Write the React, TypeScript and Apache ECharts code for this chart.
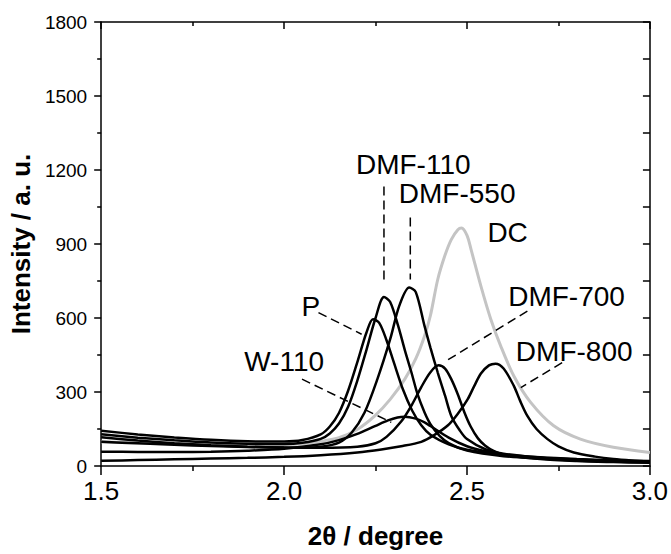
import React, { useEffect, useRef } from "react";
import * as echarts from "echarts";

const X_MIN = 1.5;
const X_MAX = 3.0;
const X_INTERVAL = 0.5;
const Y_MIN = 0;
const Y_MAX = 1800;
const Y_INTERVAL = 300;

const P_DATA: [number, number][] = [
  [1.5, 143], [1.6, 128], [1.7, 116], [1.8, 106], [1.9, 100], [2.0, 99], [2.05, 105], [2.1, 128],
  [2.125, 160], [2.15, 215], [2.175, 305], [2.2, 420], [2.225, 540], [2.243, 595], [2.26, 580],
  [2.28, 510], [2.3, 420], [2.325, 310], [2.35, 225], [2.375, 165], [2.4, 127], [2.45, 88],
  [2.5, 66], [2.6, 46], [2.7, 35], [2.8, 28], [2.9, 23], [3.0, 20],
];

const DMF110_DATA: [number, number][] = [
  [1.5, 129], [1.6, 115], [1.7, 104], [1.8, 95], [1.9, 90], [2.0, 89], [2.05, 94], [2.1, 110],
  [2.125, 132], [2.15, 172], [2.175, 240], [2.2, 345], [2.225, 470], [2.25, 600], [2.273, 685],
  [2.29, 665], [2.312, 567], [2.33, 470], [2.348, 380], [2.365, 290], [2.384, 217], [2.4, 170],
  [2.425, 122], [2.45, 93], [2.5, 63], [2.6, 40], [2.7, 30], [2.8, 24], [2.9, 20], [3.0, 17],
];

const DMF550_DATA: [number, number][] = [
  [1.5, 117], [1.6, 103], [1.7, 92], [1.8, 84], [1.9, 78], [2.0, 75], [2.05, 74], [2.1, 78],
  [2.15, 95], [2.185, 136], [2.22, 217], [2.255, 352], [2.29, 514], [2.315, 650], [2.342, 724],
  [2.36, 705], [2.384, 567], [2.4, 480], [2.42, 379], [2.44, 285], [2.457, 203], [2.48, 145],
  [2.5, 109], [2.55, 68], [2.6, 50], [2.7, 34], [2.8, 26], [2.9, 21], [3.0, 18],
];

const DC_DATA: [number, number][] = [
  [1.5, 98], [1.6, 93], [1.7, 89], [1.8, 87], [1.9, 86], [2.0, 87], [2.05, 90], [2.1, 100],
  [2.15, 115], [2.2, 148], [2.248, 203], [2.29, 270], [2.33, 352], [2.36, 435], [2.384, 527],
  [2.4, 610], [2.42, 756], [2.44, 855], [2.457, 918], [2.475, 958], [2.485, 965], [2.5, 935],
  [2.511, 878], [2.538, 729], [2.565, 595], [2.592, 487], [2.628, 365], [2.674, 258],
  [2.737, 163], [2.81, 109], [2.9, 76], [3.0, 55],
];

const DMF700_DATA: [number, number][] = [
  [1.5, 98], [1.6, 92], [1.7, 86], [1.8, 81], [1.9, 77], [2.0, 75], [2.1, 74], [2.2, 78],
  [2.25, 92], [2.28, 118], [2.32, 180], [2.35, 250], [2.375, 320], [2.4, 380], [2.422, 408],
  [2.44, 395], [2.457, 352], [2.475, 290], [2.493, 217], [2.51, 160], [2.53, 112], [2.55, 82],
  [2.574, 60], [2.6, 46], [2.7, 28], [2.8, 20], [2.9, 16], [3.0, 13],
];

const DMF800_DATA: [number, number][] = [
  [1.5, 21], [1.6, 24], [1.7, 27], [1.8, 30], [1.9, 33], [2.0, 37], [2.1, 44], [2.2, 55],
  [2.266, 67], [2.32, 80], [2.375, 98], [2.41, 125], [2.448, 165], [2.475, 212], [2.502, 271],
  [2.52, 325], [2.538, 375], [2.56, 408], [2.578, 415], [2.6, 395], [2.628, 325], [2.645, 265],
  [2.665, 203], [2.69, 150], [2.72, 109], [2.75, 80], [2.792, 55], [2.85, 38], [2.9, 28],
  [2.95, 22], [3.0, 18],
];

const W110_DATA: [number, number][] = [
  [1.5, 58], [1.6, 57], [1.7, 57], [1.8, 58], [1.9, 62], [2.0, 70], [2.1, 88], [2.15, 105],
  [2.2, 130], [2.25, 163], [2.284, 185], [2.31, 197], [2.33, 200], [2.36, 192], [2.384, 177],
  [2.4, 162], [2.45, 115], [2.5, 80], [2.55, 60], [2.628, 40], [2.7, 30], [2.8, 22], [2.9, 18],
  [3.0, 15],
];

// annotation texts positioned in data coordinates
const LABELS: { text: string; x: number; y: number }[] = [
  { text: "DMF-110", x: 2.353, y: 1222 },
  { text: "DMF-550", x: 2.473, y: 1104 },
  { text: "DC", x: 2.611, y: 947 },
  { text: "DMF-700", x: 2.772, y: 688 },
  { text: "DMF-800", x: 2.793, y: 465 },
  { text: "P", x: 2.073, y: 647 },
  { text: "W-110", x: 2.0, y: 425 },
];

const LEADERS: { from: [number, number]; to: [number, number] }[] = [
  { from: [2.273, 1133], to: [2.273, 748] },
  { from: [2.345, 1007], to: [2.345, 756] },
  { from: [2.665, 628], to: [2.443, 426] },
  { from: [2.76, 419], to: [2.647, 318] },
  { from: [2.094, 622], to: [2.212, 534] },
  { from: [2.049, 352], to: [2.293, 177] },
];

const FONT = "'Liberation Sans', Arial, Helvetica, sans-serif";

export default function App() {
  const ref = useRef<HTMLDivElement>(null);

  useEffect(() => {
    if (!ref.current) return;
    const chart = echarts.init(ref.current, undefined, { renderer: "svg" });

    const blackLine = (name: string, data: [number, number][]) => ({
      name,
      type: "line",
      data,
      showSymbol: false,
      smooth: 0.3,
      lineStyle: { color: "#000", width: 2.5 },
      z: 3,
    });

    const option: any = {
      animation: false,
      backgroundColor: "#fff",
      textStyle: { fontFamily: FONT },
      grid: { left: 98, right: 21, top: 22, bottom: 87 },
      xAxis: [
        {
          type: "value",
          min: X_MIN,
          max: X_MAX,
          interval: X_INTERVAL,
          position: "bottom",
          name: "2θ / degree",
          nameLocation: "middle",
          nameGap: 57,
          nameTextStyle: { fontSize: 26, fontWeight: "bold", color: "#000", fontFamily: FONT },
          axisLine: { show: true, onZero: false, lineStyle: { color: "#000", width: 1.5 } },
          axisTick: { show: true, inside: false, length: 9, lineStyle: { color: "#000", width: 1.5 } },
          minorTick: { show: true, splitNumber: 2, length: 5, lineStyle: { color: "#000", width: 1.5 } },
          axisLabel: {
            fontSize: 26,
            color: "#000",
            margin: 12,
            fontFamily: FONT,
            formatter: (v: number) => v.toFixed(1),
          },
          splitLine: { show: false },
        },
        {
          type: "value",
          min: X_MIN,
          max: X_MAX,
          interval: X_INTERVAL,
          position: "top",
          axisLine: { show: true, onZero: false, lineStyle: { color: "#000", width: 1.5 } },
          axisTick: { show: true, inside: true, length: 7, lineStyle: { color: "#000", width: 1.5 } },
          minorTick: { show: true, splitNumber: 2, length: 4, lineStyle: { color: "#000", width: 1.5 } },
          axisLabel: { show: false },
          splitLine: { show: false },
        },
      ],
      yAxis: [
        {
          type: "value",
          min: Y_MIN,
          max: Y_MAX,
          interval: Y_INTERVAL,
          position: "left",
          name: "Intensity / a. u.",
          nameLocation: "middle",
          nameGap: 64,
          nameTextStyle: { fontSize: 26, fontWeight: "bold", color: "#000", fontFamily: FONT },
          axisLine: { show: true, onZero: false, lineStyle: { color: "#000", width: 1.5 } },
          axisTick: { show: true, inside: false, length: 7, lineStyle: { color: "#000", width: 1.5 } },
          minorTick: { show: true, splitNumber: 2, length: 4, lineStyle: { color: "#000", width: 1.5 } },
          axisLabel: {
            fontSize: 19,
            color: "#000",
            margin: 14,
            fontFamily: FONT,
            formatter: (v: number) => String(v),
          },
          splitLine: { show: false },
        },
        {
          type: "value",
          min: Y_MIN,
          max: Y_MAX,
          interval: Y_INTERVAL,
          position: "right",
          axisLine: { show: true, onZero: false, lineStyle: { color: "#000", width: 1.5 } },
          axisTick: { show: true, inside: true, length: 7, lineStyle: { color: "#000", width: 1.5 } },
          minorTick: { show: true, splitNumber: 2, length: 7, lineStyle: { color: "#000", width: 1.5 } },
          axisLabel: { show: false },
          splitLine: { show: false },
        },
      ],
      series: [
        {
          name: "DC",
          type: "line",
          data: DC_DATA,
          showSymbol: false,
          smooth: 0.3,
          lineStyle: { color: "#c4c4c4", width: 3 },
          z: 2,
        },
        blackLine("P", P_DATA),
        blackLine("DMF-110", DMF110_DATA),
        blackLine("DMF-550", DMF550_DATA),
        blackLine("DMF-700", DMF700_DATA),
        blackLine("DMF-800", DMF800_DATA),
        blackLine("W-110", W110_DATA),
      ],
    };

    chart.setOption(option);

    const toPx = (p: [number, number]) =>
      chart.convertToPixel({ seriesIndex: 0 }, p) as number[];

    const graphic: any[] = [];
    LEADERS.forEach((l) => {
      const a = toPx(l.from);
      const b = toPx(l.to);
      graphic.push({
        type: "line",
        shape: { x1: a[0], y1: a[1], x2: b[0], y2: b[1] },
        style: { stroke: "#000", lineWidth: 1.5, lineDash: [9, 5] },
        z: 10,
      });
    });
    LABELS.forEach((l) => {
      const p = toPx([l.x, l.y]);
      graphic.push({
        type: "text",
        x: p[0],
        y: p[1],
        style: {
          text: l.text,
          fontSize: 28,
          fontFamily: FONT,
          fill: "#000",
          textAlign: "center",
          textVerticalAlign: "middle",
          align: "center",
          verticalAlign: "middle",
        },
        z: 10,
      });
    });
    chart.setOption({ graphic });

    return () => chart.dispose();
  }, []);

  return (
    <div
      ref={ref}
      style={{ position: "absolute", left: 0, top: 0, width: 671, height: 554 }}
    />
  );
}
